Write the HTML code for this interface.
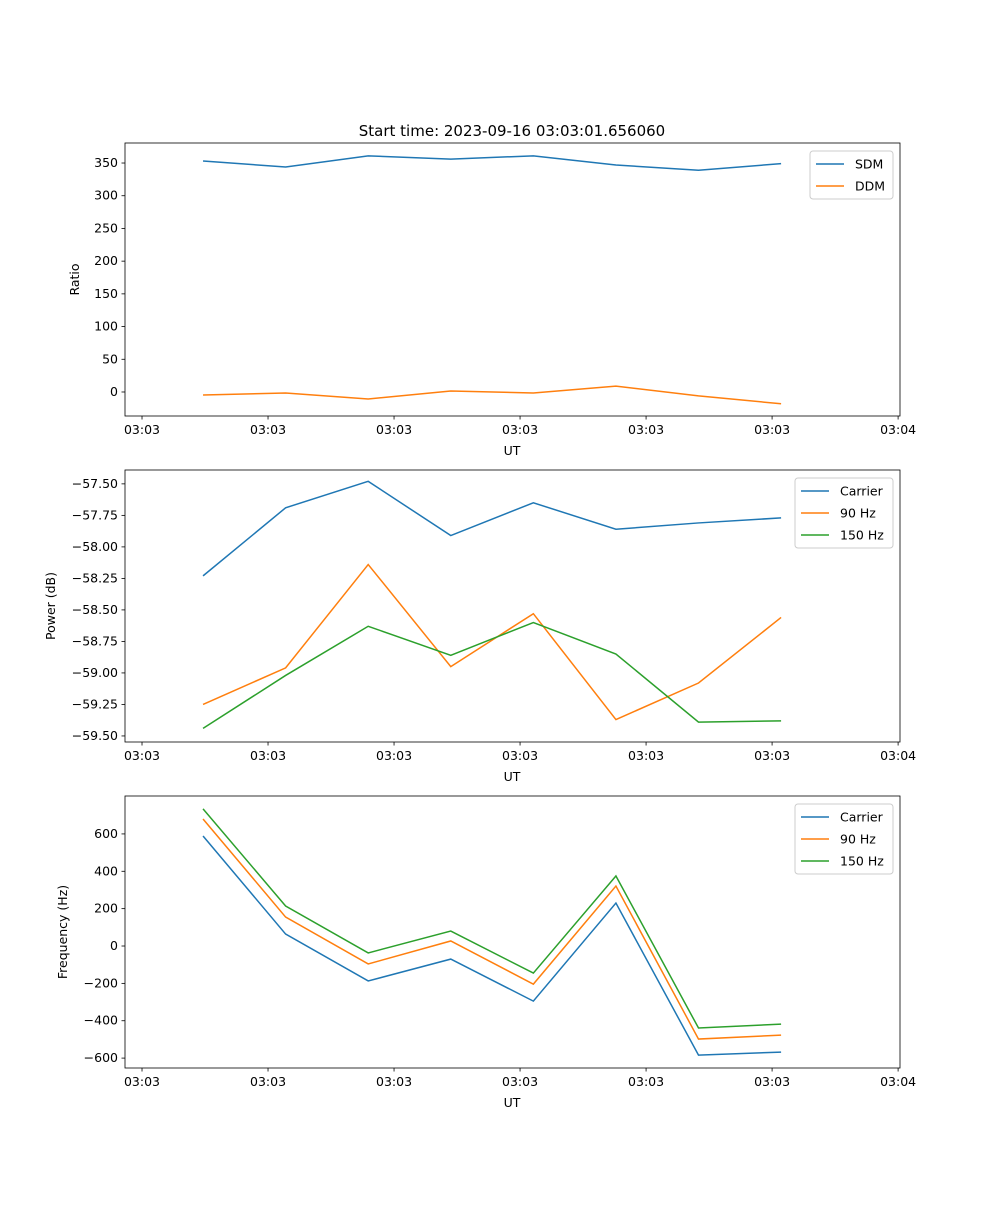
<!DOCTYPE html>
<html><head><meta charset="utf-8"><style>
body{margin:0;background:#fff}
svg{font-family:"DejaVu Sans","Liberation Sans",sans-serif}
</style></head><body>
<svg id="fig" width="1000" height="1200"></svg>
<script>
const xTickLabels=["03:03","03:03","03:03","03:03","03:03","03:03","03:04"];
const xTickVals=[-0.739,0.787,2.313,3.839,5.365,6.891,8.417];
const pts=[0,1,2,3,4,5,6,7];
const sdm=[353,344,361,356,361,347,339,349];
const ddm=[-4.6,-1.5,-10.7,1.5,-1.5,9,-6,-18];
const pwrCarrier=[-58.23,-57.69,-57.48,-57.91,-57.65,-57.86,-57.81,-57.77];
const pwr90=[-59.25,-58.96,-58.14,-58.95,-58.53,-59.37,-59.08,-58.56];
const pwr150=[-59.44,-59.02,-58.63,-58.86,-58.60,-58.85,-59.39,-59.38];
const frqCarrier=[589,64,-187,-70,-295,230,-584,-568];
const frq90=[680,155,-96,27,-204,321,-498,-477];
const frq150=[734,214,-37,80,-145,375,-439,-418];
const t1=[0,50,100,150,200,250,300,350];
const t2=[-59.5,-59.25,-59.0,-58.75,-58.5,-58.25,-58.0,-57.75,-57.5];
const t3=[-600,-400,-200,0,200,400,600];
const C=['#1f77b4','#ff7f0e','#2ca02c'];
const NS='http://www.w3.org/2000/svg';
const svg=document.getElementById('fig');
function el(t,a,p){const e=document.createElementNS(NS,t);for(const k in a)e.setAttribute(k,a[k]);(p||svg).appendChild(e);return e;}
function txt(s,a,p){const e=el('text',a,p);e.textContent=s;return e;}
const L=125,R=900,xmin=-0.945,xmax=8.44;
const xs=v=>L+(v-xmin)/(xmax-xmin)*(R-L);
function panel(name,top,bot,ymin,ymax,ticks,fmt,ylabel,ylx,series,names,legW){
  const g=el('g',{});
  
  
  const ys=v=>bot-(v-ymin)/(ymax-ymin)*(bot-top);
  series.forEach((s,i)=>{
    const p=el('polyline',{points:s.map((v,j)=>xs(pts[j])+','+ys(v)).join(' '),fill:'none',stroke:C[i],'stroke-width':1.5},g);
    
    
  });
  el('rect',{x:L,y:top,width:R-L,height:bot-top,fill:'none',stroke:'#000','stroke-width':0.8},g);
  ticks.forEach(v=>{const y=ys(v);el('line',{x1:L-3.5,x2:L,y1:y,y2:y,stroke:'#000','stroke-width':0.8},g);
    txt(fmt(v),{x:L-7,y:y+4,'text-anchor':'end','font-size':12.5},g);});
  xTickVals.forEach((v,i)=>{const x=xs(v);el('line',{x1:x,x2:x,y1:bot,y2:bot+3.5,stroke:'#000','stroke-width':0.8},g);
    txt(xTickLabels[i],{x:x,y:bot+18,'text-anchor':'middle','font-size':12.5},g);});
  const xl=txt('UT',{x:512,y:bot+39,'text-anchor':'middle','font-size':12.5},g);
  
  const yl=txt(ylabel,{transform:`translate(${ylx},${(top+bot)/2}) rotate(-90)`,'text-anchor':'middle','font-size':12.5},g);
  
  const lg=el('g',{},g);
  
  const lx=R-7-legW,ly=top+8;
  el('rect',{x:lx,y:ly,width:legW,height:names.length*22+4,rx:3,fill:'#fff',stroke:'#ccc'},lg);
  names.forEach((n,i)=>{const y=ly+13+i*22;
    el('line',{x1:lx+6,x2:lx+34,y1:y,y2:y,stroke:C[i],'stroke-width':1.5},lg);
    txt(n,{x:lx+45,y:y+4.5,'font-size':12.5},lg);});
}
txt('Start time: 2023-09-16 03:03:01.656060',{x:512,y:136,'text-anchor':'middle','font-size':15});
panel('ratio-panel',143,416,-36.7,380.6,t1,v=>v,'Ratio',79,[sdm,ddm],['SDM','DDM'],83);
panel('power-panel',470,742,-59.548,-57.39,t2,v=>'\u2212'+Math.abs(v).toFixed(2),'Power (dB)',55,[pwrCarrier,pwr90,pwr150],['Carrier','90 Hz','150 Hz'],98);
panel('frequency-panel',796,1068,-653,803,t3,v=>v<0?'\u2212'+(-v):v,'Frequency (Hz)',67,[frqCarrier,frq90,frq150],['Carrier','90 Hz','150 Hz'],98);
</script>
</body></html>
